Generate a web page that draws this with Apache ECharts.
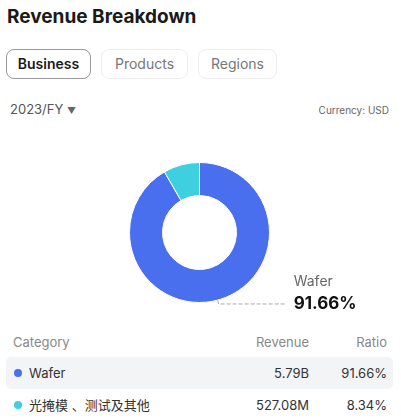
<!DOCTYPE html>
<html>
<head>
<meta charset="utf-8">
<script src="https://cdn.jsdelivr.net/npm/echarts@6/dist/echarts.min.js"></script>
<style>
    body { margin: 0; width: 401px; height: 420px; background: #fff; font-family: Inter, "Noto Sans", "Noto Sans CJK SC", sans-serif; position: relative; overflow: hidden; }
    .title { position: absolute; left: 7px; top: 5px; font-size: 19px; font-weight: 700; color: #1a1a1a; }
    .tab { position: absolute; top: 49px; height: 30px; box-sizing: border-box; border: 1px solid #eeeeee; border-radius: 8px; font-size: 14px; color: #777; line-height: 28px; text-align: center; }
    .tab.on { border-color: #999; color: #1a1a1a; font-weight: 600; }
    .year { position: absolute; left: 10px; top: 101px; font-size: 13px; color: #555; }
    .cur { position: absolute; right: 12px; top: 104px; font-size: 10px; color: #666; }
    #main { position: absolute; left: 0; top: 150px; width: 401px; height: 170px; }
    .row { position: absolute; left: 6px; width: 387px; height: 32px; font-size: 13px; color: #333; line-height: 32px; border-radius: 5px; }
    .row.hd { color: #888; }
    .row span { position: absolute; }
    .dot { display: inline-block; width: 8px; height: 8px; border-radius: 50%; position: absolute; left: 8px; top: 12px; }
</style>
</head>
<body>
<div class="title">Revenue Breakdown</div>
<div class="tab on" style="left:6px;width:85px;">Business</div>
<div class="tab" style="left:101px;width:87px;">Products</div>
<div class="tab" style="left:198px;width:79px;">Regions</div>
<div class="year">2023/FY <span style="font-size:9px;color:#666;">&#9660;</span></div>
<div class="cur">Currency: USD</div>
<div id="main"></div>
<div id="table"></div>
<script>
    // 数据
    var categories = ['Wafer', '光掩模 、测试及其他'];
    var revenues = [5.79e9, 527.08e6];
    var revenueLabels = ['5.79B', '527.08M'];
    var ratios = [91.66, 8.34];
    var colors = ['#4a6fee', '#3ecfe0'];

    var myChart = echarts.init(document.getElementById('main'));
    var pieData = [];
    for (var i = 0; i < categories.length; i++) {
        pieData.push({
            name: categories[i],
            value: ratios[i],
            itemStyle: { color: colors[i] },
            label: { show: i == 0 },
            labelLine: { show: i == 0 }
        });
    }

    var option = {
        animation: false,
        series: [
            {
                type: 'pie',
                center: [199.5, 82.5],
                radius: [37, 70],
                startAngle: 90,
                clockwise: true,
                avoidLabelOverlap: false,
                itemStyle: { borderColor: '#fff', borderWidth: 1 },
                label: {
                    position: 'outside',
                    formatter: function (p) {
                        return '{n|' + p.name + '}\n{v|' + p.value.toFixed(2) + '%}\n{e|}';
                    },
                    rich: {
                        n: { fontSize: 14, color: '#666', lineHeight: 22, fontFamily: 'Inter' },
                        v: { fontSize: 17, color: '#111', fontWeight: 'bold', lineHeight: 22, fontFamily: 'Inter' },
                        e: { lineHeight: 22 }
                    },
                    padding: [0, 0, 0, 2]
                },
                labelLine: {
                    length: 4,
                    length2: 68,
                    lineStyle: { color: '#aaa', type: 'dashed', width: 1 }
                },
                data: pieData
            }
        ]
    };
    myChart.setOption(option);

    // 表格
    var html = '<div class="row hd" style="top:326px;"><span style="left:7px;">Category</span>' +
        '<span style="right:84px;">Revenue</span><span style="right:6px;">Ratio</span></div>';
    for (var j = 0; j < categories.length; j++) {
        var rowTop = 357 + j * 32;
        html += '<div class="row" style="top:' + rowTop + 'px;' + (j == 0 ? 'background:#f3f4f6;' : '') + '">' +
            '<i class="dot" style="background:' + colors[j] + '"></i>' +
            '<span style="left:23px;">' + categories[j] + '</span>' +
            '<span style="right:84px;">' + revenueLabels[j] + '</span>' +
            '<span style="right:6px;">' + ratios[j].toFixed(2) + '%</span></div>';
    }
    document.getElementById('table').innerHTML = html;
</script>
</body>
</html>
